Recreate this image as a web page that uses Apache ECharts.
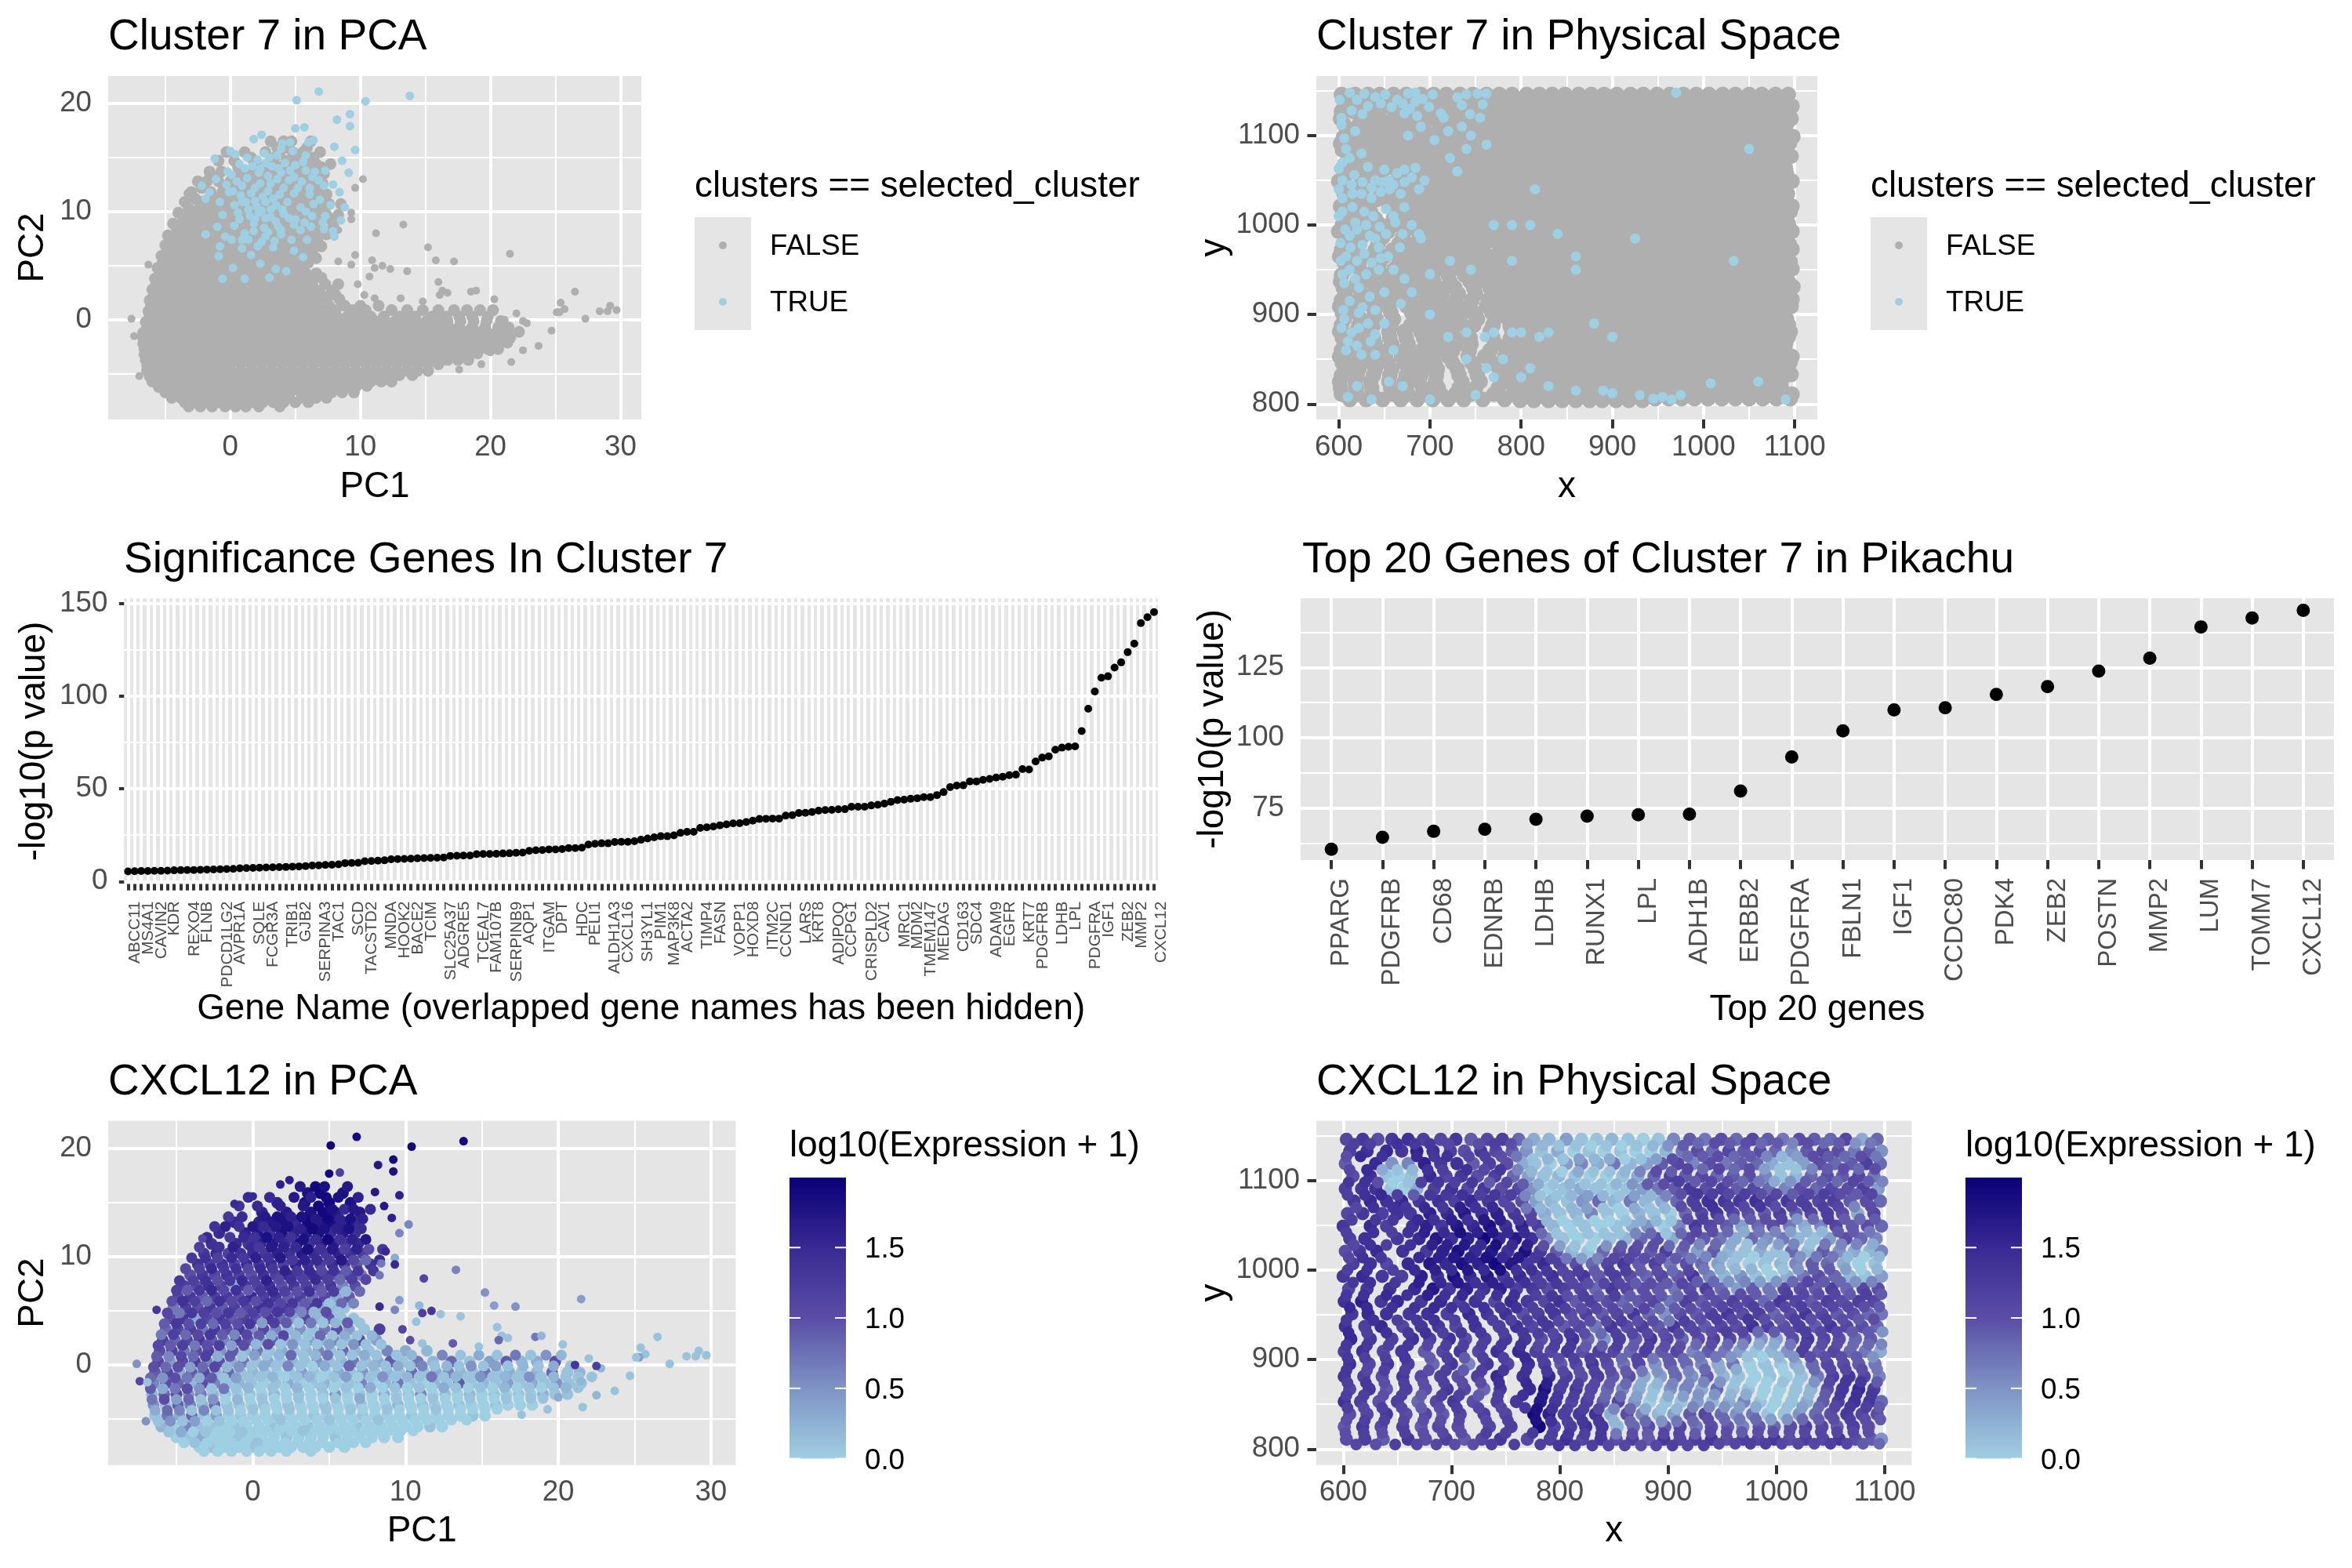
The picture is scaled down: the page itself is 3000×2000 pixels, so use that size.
<!DOCTYPE html>
<html><head><meta charset="utf-8">
<script src="https://cdn.jsdelivr.net/npm/echarts@6/dist/echarts.min.js"></script>
<style>html,body{margin:0;padding:0;background:#fff}#c{width:3000px;height:2000px}</style></head>
<body><div id="c"></div>
<script>
// --- gene data ---
const rankedLabels = {0:"ABCC11",2:"MS4A1",4:"CAVIN2",6:"KDR",9:"REXO4",11:"FLNB",14:"PDCD1LG2",16:"AVPR1A",19:"SQLE",21:"FCGR3A",24:"TRIB1",26:"GJB2",29:"SERPINA3",31:"TAC1",34:"SCD",36:"TACSTD2",39:"MNDA",41:"HOOK2",43:"BACE2",45:"TCIM",48:"SLC25A37",50:"ADGRE5",53:"TCEAL7",55:"FAM107B",58:"SERPINB9",60:"AQP1",63:"ITGAM",65:"DPT",68:"HDC",70:"PELI1",73:"ALDH1A3",75:"CXCL16",78:"SH3YL1",80:"PIM1",82:"MAP3K8",84:"ACTA2",87:"TIMP4",89:"FASN",92:"VOPP1",94:"HOXD8",97:"ITM2C",99:"CCND1",102:"LARS",104:"KRT8",107:"ADIPOQ",109:"CCPG1",112:"CRISPLD2",114:"CAV1",117:"MRC1",119:"MDM2",121:"TMEM147",123:"MEDAG",126:"CD163",128:"SDC4",131:"ADAM9",133:"EGFR",136:"KRT7",138:"PDGFRB",141:"LDHB",143:"LPL",146:"PDGFRA",148:"IGF1",151:"ZEB2",153:"MMP2",156:"CXCL12"};
const rankedValues = [5.4,5.5,5.6,5.6,5.7,5.7,5.8,6.0,6.1,6.2,
6.2,6.3,6.4,6.5,6.6,6.7,6.8,7.1,7.2,7.3,
7.4,7.5,7.6,7.7,7.8,8.0,8.1,8.3,8.6,8.7,
8.9,9.0,9.2,9.9,10.0,10.1,10.9,11.0,11.2,11.4,
12.0,12.1,12.2,12.3,12.5,12.6,12.7,12.8,12.9,13.8,
13.9,14.0,14.0,14.7,14.8,14.8,14.9,15.1,15.2,15.5,
15.6,16.5,16.8,16.9,17.3,17.3,17.5,18.0,18.0,18.2,
19.9,20.3,20.6,20.6,21.3,21.4,21.4,21.7,22.5,23.2,
23.8,24.4,24.4,24.9,26.2,26.8,26.8,28.9,29.2,29.6,
30.3,30.8,31.3,31.4,32.1,32.8,33.7,33.8,33.9,33.9,
35.5,35.8,36.9,37.0,37.5,38.2,38.5,38.6,38.9,39.0,
40.3,40.3,40.3,41.0,41.4,42.0,43.0,43.9,44.1,44.6,
44.9,45.5,45.5,46.6,48.2,50.9,51.7,51.9,54.0,54.0,
54.8,55.3,56.1,56.5,57.3,57.6,60.6,60.4,64.7,66.8,
67.5,71.1,72.2,72.7,72.9,81.1,93.2,102.5,109.9,110.7,
115.4,118.2,123.7,128.3,139.4,142.6,145.3];
const topGenes = ["PPARG","PDGFRB","CD68","EDNRB","LDHB","RUNX1","LPL","ADH1B","ERBB2","PDGFRA","FBLN1","IGF1","CCDC80","PDK4","ZEB2","POSTN","MMP2","LUM","TOMM7","CXCL12"];
const topValues = [60.4,64.7,66.8,67.5,71.1,72.2,72.7,72.9,81.1,93.2,102.5,109.9,110.7,115.4,118.2,123.7,128.3,139.4,142.6,145.3];
// --- PCA cells: each row is [PC2, PC1*10, expr*10, PC1*10, expr*10, ...] ---
const pcaRows = [
[15.9,36,18,44,19,59,18],
[15.0,16,16,34,18,50,19,64,18],
[14.1,6,16,22,17,38,18,46,19,54,17,70,17],
[13.2,-12,15,4,16,12,17,20,18,28,15,36,19,44,17,52,18,60,16,68,15],
[12.2,-22,15,-5,16,3,17,11,14,19,18,27,16,35,17,43,18,51,15,59,17,67,14],
[11.2,-27,14,-11,15,-3,13,5,16,13,17,21,15,29,18,37,14,45,16,53,17,61,13,69,15],
[10.3,-32,13,-24,15,-16,12,-8,14,0,15,8,13,16,16,24,14,32,17,40,15,48,13,56,16,64,14,72,12],
[9.3,-36,14,-28,12,-20,14,-12,11,-4,15,4,13,12,15,20,12,28,16,36,14,44,12,52,15,60,13,68,9,77,14],
[8.3,-41,10,-33,13,-25,11,-17,14,-9,12,-1,10,7,14,15,12,23,15,31,11,39,14,47,13,55,10,63,12,71,7],
[7.3,-45,12,-37,10,-29,14,-21,12,-13,3,-5,13,3,11,11,14,19,10,27,13,35,12,43,10,51,13,59,6,67,10],
[6.3,-49,11,-41,13,-33,9,-25,12,-17,13,-9,10,-1,15,7,12,15,13,23,9,31,12,39,8,47,11,55,3,63,9],
[5.3,-52,7,-44,12,-36,10,-28,13,-20,9,-12,12,-4,11,4,14,12,10,20,13,28,7,36,12,44,3,52,2,60,1],
[4.3,-54,10,-46,13,-38,3,-30,11,-22,13,-14,9,-6,12,2,10,10,13,18,8,26,4,34,11,42,2,50,9,58,1,66,1],
[3.3,-57,8,-49,11,-41,12,-33,7,-25,13,-17,10,-9,13,-1,5,7,11,15,6,23,2,31,5,39,1,47,7,55,10,63,4,73,1,83,12],
[2.3,-59,12,-51,8,-43,11,-35,13,-27,9,-19,6,-11,12,-3,9,5,3,13,9,21,2,29,1,37,4,45,2,53,6,61,1,70,10,81,4],
[1.3,-61,10,-53,12,-45,7,-37,10,-29,12,-21,5,-13,9,-5,2,3,7,11,1,19,3,27,1,35,2,43,6,51,1,59,8,67,2,76,1,88,6,100,3,114,2],
[0.3,-62,11,-54,4,-46,10,-38,12,-30,6,-22,10,-14,3,-6,7,2,1,10,3,18,1,26,2,34,1,42,5,50,1,58,2,66,7,74,1,82,3,90,9,98,1,108,7,118,2,130,8,142,1,155,4,166,9,176,2,186,3,198,10],
[-0.7,-64,9,-56,11,-48,3,-40,9,-32,11,-24,2,-16,8,-8,1,0,2,8,1,16,0,24,1,32,4,40,1,48,0,56,3,64,1,72,5,80,1,88,2,96,1,104,8,112,1,120,3,128,6,136,2,144,1,152,7,160,1,168,3,176,1,186,2,196,8,206,1,214,2],
[-1.7,-65,6,-57,10,-49,8,-41,2,-33,10,-25,6,-17,1,-9,2,-1,1,7,0,15,1,23,3,31,0,39,1,47,2,55,0,63,1,71,6,79,0,87,2,95,7,103,1,111,0,119,2,127,1,135,9,143,1,151,2,159,1,167,4,175,1,183,3,191,1,199,5,207,1,215,1],
[-2.7,-66,2,-58,8,-50,11,-42,5,-34,7,-26,2,-18,1,-10,0,-2,1,6,0,14,2,22,0,30,1,38,0,46,1,54,5,62,0,70,1,78,0,86,3,94,0,102,1,110,6,118,0,126,1,134,0,142,2,150,0,158,1,166,0,174,1,182,0,190,3,198,1,206,1],
[-3.7,-65,5,-57,1,-49,9,-41,6,-33,2,-25,8,-17,1,-9,1,-1,0,7,1,15,0,23,1,31,0,39,0,47,1,55,0,63,0,71,1,79,0,87,0,95,2,103,0,111,1,119,0,127,0,135,1,143,0,151,0,159,1,167,0,175,0,183,0],
[-4.7,-64,1,-56,7,-48,3,-40,8,-32,1,-24,4,-16,0,-8,1,0,0,8,0,16,1,24,0,32,0,40,1,48,0,56,0,64,0,72,1,80,0,88,0,96,0,104,1,112,0,120,0,128,0,136,0,144,1,152,0],
[-5.7,-60,2,-52,0,-44,6,-36,1,-28,1,-20,0,-12,1,-4,0,4,0,12,1,20,0,28,0,36,1,44,0,52,0,60,0,68,1,76,0,84,0,92,0,100,0,108,0,116,1,124,0],
[-6.7,-50,0,-42,1,-34,3,-26,0,-18,0,-10,1,-2,0,6,0,14,0,22,1,30,0,38,0,46,0,54,1,62,0,70,0,78,0,86,0,95,0],
[-7.6,-35,0,-27,1,-19,0,-9,0,-1,1,7,0,17,0,25,0,33,0,41,0,50,0,60,0]
];
// --- more PCA cells, in short runs, same layout ---
const pcaRuns = [
[16.5,31,17,41,19,47,18,62,17],
[15.5,-3,15,11,15,27,17,38,16,48,19,56,18,69,16],
[14.7,-9,14,3,15,18,16,33,17,43,19],
[14.4,52,18,60,15,66,17,77,15],
[13.7,-16,13,-7,15,8,17,16,18,25,16,32,18],
[13.5,41,17,49,19,57,16,64,18,72,16],
[12.8,-25,14,-18,16,-9,14,0,17,7,15,15,17,23,18],
[12.6,31,16,39,19,47,18,55,16,63,18,71,15],
[11.8,-30,15,-15,13,-6,15,1,14,9,18,17,16,25,14],
[11.6,33,18,41,15,49,19,57,14,65,16,74,17],
[10.9,-35,12,-22,14,-13,16,-1,15,4,13,12,17,20,16,28,15],
[10.7,36,18,44,14,52,17,60,12,68,16,76,10,85,13],
[9.9,-40,13,-31,14,-23,12,-14,15,-6,13,2,16,10,14,18,17],
[9.7,26,13,34,16,42,15,50,13,58,17,66,11,74,8,83,15],
[8.9,-44,11,-35,12,-27,15,-19,13,-11,14,-3,11,5,15,13,13],
[8.7,21,16,29,13,37,15,45,11,53,14,61,9,69,13,79,13],
[7.8,-48,13,-39,12,-31,14,-23,10,-15,13,-7,15,1,12,9,16],
[7.9,17,11,25,14,33,12,41,15,49,12,57,8,65,12,74,11],
[6.9,-50,12,-43,9,-35,13,-27,15,-19,11,-11,14,-3,9,5,13],
[6.8,13,15,21,12,29,10,37,14,45,9,53,12,61,2,70,8],
[5.9,-53,10,-46,14,-38,12,-30,8,-22,14,-14,11,-6,13,2,10],
[5.7,10,14,18,11,26,13,34,9,42,13,50,1,58,8,66,6],
[4.8,-56,11,-48,7,-40,13,-32,12,-24,10,-16,13,-8,9,0,12],
[4.9,8,10,16,13,24,11,32,6,40,2,48,10,56,1],
[3.8,-58,9,-50,13,-42,10,-34,12,-26,8,-18,12,-10,10,-2,13],
[3.9,6,4,14,12,22,9,30,1,38,7,46,1,54,2,62,9,70,1],
[2.8,-60,7,-52,12,-44,8,-36,11,-28,13,-20,9,-12,6,-4,11],
[2.7,4,9,12,3,20,11,28,2,36,1,44,8,52,1,60,3,68,1,78,2],
[1.8,-62,11,-54,9,-46,12,-38,7,-30,10,-22,12,-14,4,-6,10],
[1.9,2,2,10,10,18,1,26,5,34,1,42,1,50,4,58,1,66,5,74,1,84,1],
[0.8,-63,9,-55,6,-47,11,-39,8,-31,12,-23,3,-15,9,-7,1],
[0.9,1,4,9,1,17,2,25,8,33,1,41,2,49,7,57,1,65,1,73,3,81,1,94,1,104,2,124,6,136,1,148,3,160,1,172,7,182,1,192,5,202,2],
[-0.2,-65,10,-57,8,-49,10,-41,4,-33,8,-25,11,-17,2,-9,5],
[-0.1,-1,1,7,3,15,1,23,6,31,1,39,0,47,3,55,1,63,8,71,1,79,2,87,1,95,3,103,1,111,6,119,1,127,2,135,1,143,5,151,1,159,4,167,1,177,2,187,1,197,3,208,1],
[-1.2,-67,8,-59,5,-51,10,-43,7,-35,3,-27,9,-19,1,-11,4],
[-1.1,-3,1,5,1,13,2,21,0,29,1,37,2,45,0,53,1,61,4,69,0,77,1,85,5,93,1,101,2,109,1,117,7,125,1,133,2,141,1,149,5,157,1,165,2,173,1,181,5,189,1,197,2,205,1,213,1,222,1],
[-2.2,-67,9,-59,3,-51,7,-43,10,-35,5,-27,1,-19,7,-11,1],
[-2.1,-3,2,5,0,13,1,21,0,29,2,37,0,45,1,53,0,61,1,69,0,77,3,85,0,93,1,101,0,109,1,117,0,125,3,133,1,141,0,149,1,157,0,165,2,173,0,181,1,189,0,197,1,205,2,213,1],
[-3.2,-66,7,-58,10,-50,4,-42,8,-34,1,-26,5,-18,0,-10,2],
[-3.1,-2,0,6,1,14,0,22,0,30,1,38,0,46,0,54,1,62,0,70,3,78,0,86,0,94,1,102,0,110,0,118,1,126,0,134,0,142,1,150,0,158,0,166,1,174,0,182,1,190,1],
[-4.2,-64,3,-56,8,-48,6,-40,1,-32,6,-24,1,-16,1,-8,0],
[-4.1,0,1,8,0,16,0,24,1,32,0,40,0,48,1,56,0,64,1,72,0,80,0,88,1,96,0,104,0,112,0,120,1,128,0,136,0,144,0,152,0,160,0],
[-5.2,-62,1,-54,5,-46,1,-38,4,-30,0,-22,1,-14,0,-6,0],
[-5.1,2,0,10,0,18,1,26,0,34,0,42,0,50,1,58,0,66,0,74,0,82,1,90,0,98,0,106,0,114,0,122,0,130,0,140,0],
[-6.2,-55,1,-47,3,-39,0,-31,1,-23,0,-15,0,-7,1,1,0],
[-6.1,9,0,17,0,25,0,33,1,41,0,49,0,57,0,65,0,73,0,81,0,89,0,97,0,105,0],
[-7.2,-45,0,-38,1,-30,0,-22,0,-14,0,-5,0,3,1,11,0,21,0,29,0,37,0,45,0,56,0,66,0,74,0],
[-8.0,-32,0,-23,0,-14,0,-4,0,4,0,12,0,22,0,38,0]
];
// --- outlying PCA cells: [PC1, PC2, expr] ---
const pcaOutliers = [[6.8,21.1,1.9],[5.1,20.3,1.9],[10.4,20.2,1.9],[13.8,20.7,1.9],[9.2,19,1.9],[8.2,18.5,1.7],[9.2,17.9,1.8],[5,17.7,1.9],[5.7,17.8,1.2],[2.4,17.1,1.6],[1.8,16.7,1.6],[8,16,1.7],[9.6,15.7,1.6],[0,15.6,1.5],[-1.2,14.9,1.5],[8.6,14.7,1.7],[9.1,13.6,1.6],[10.2,13,.6],[9.6,12.2,.6],[-3.3,11.7,1.1],[9.3,9.9,.3],[9.3,9.3,1.5],[8.4,9.4,.7],[8.7,10.5,1.5],[13.3,8.8,.6],[11.2,8,1.1],[8.3,8.3,.7],[15.2,6.7,.5],[21.5,6.1,.4],[9.6,6,.4],[10.9,5.5,.2],[15.8,5.5,.4],[17.2,5.4,.5],[8.3,5.4,1.5],[9.3,5.1,.6],[11.1,4.8,1.2],[11.7,5,1.3],[12.3,4.7,.1],[13.6,4.5,.1],[10.7,4,.1],[16,3.5,.1],[9.8,3.3,1.1],[16.3,2.7,.1],[16.7,2.5,.1],[18.5,2.6,.7],[18.9,2.7,.2],[16.1,2.3,.8],[10.3,2.3,1],[11.1,2,.1],[13.1,2,.9],[14.8,1.7,.1],[20.3,1.9,.1],[26.5,2.6,.1],[25.4,1.6,.1],[25.7,1,.1],[25.3,.7,.4],[25.1,.7,.1],[28.4,.8,.1],[29.2,1.3,.1],[29,.8,.1],[29.7,.9,.1],[27.3,.1,.1],[24.7,-1,.1],[23.7,-2.4,.1],[22.5,-2.8,.2],[22.8,-.3,.2],[22.5,-.1,1.2],[21.6,-3.9,.1],[22,.6,.1],[21.1,0,1.3],[-7.6,.1,.5],[-7.4,-1.5,1.1],[-7,-5.2,.5],[-6.9,-1.6,.1],[-6.3,5.1,1.3],[21.5,-1.5,.2],[20,-3,.3],[19.3,-4.1,.1],[17.6,-4.6,.1]];
// --- PCA cells of cluster 7: PC1, PC2 pairs ---
const pcaCluster = [6.8,21.1,5.1,20.3,10.4,20.2,13.8,20.7,9.2,19,9.2,17.9,8.2,18.5,5,17.7,5.7,17.8,2.4,17.1,1.8,16.7,8,16,9.6,15.7,0,15.6,.4,15.3,-1.2,14.9,8.6,14.7,9.1,13.6,4,16.3,4.6,16.4,6,16.4,6.4,16.6,3.9,15.8,5.8,15.2,3,15,2.1,14.8,1.3,15,-.2,13.7,-1.1,13,1.1,14,2.3,14,3.2,14.2,4.2,14.5,5,14.3,6.5,13.7,7.3,13.8,3.9,13.6,2.9,13.3,1.3,13.1,.5,12.8,2.3,12.6,4.5,12.9,5.5,12.8,6.3,13.2,6.8,12.9,-2.2,12.4,-1.6,11.8,.8,11.5,1.6,11.7,2.9,11.9,3.8,11.6,4.9,11.7,6.1,11.6,7.9,12.5,8.4,11.8,-1.9,11.2,-.8,10.9,.3,10.6,1.2,10.9,2,10.5,2.7,10.9,3.5,10.6,4.4,10.9,5.4,10.4,6.4,10.7,7.7,10.6,8.8,10.4,-.6,9.7,.6,9.9,1.5,9.6,2.2,9.9,3.1,9.5,4.1,9.8,5,9.3,6.3,9.6,7.3,9.6,8.5,9.2,-1,8.6,.3,8.7,1.8,8.9,2.6,8.5,3.7,8.6,5.4,8.3,6.2,8.6,7.2,8.4,7.9,8.2,-1.9,7.9,-.4,7.7,1.4,7.4,2.7,7.7,3.9,7.9,4.7,7.4,5.9,7.4,-.8,6.8,.9,6.6,2.1,6.8,3.3,6.7,4.9,6.4,-.9,5.9,1.6,6,2.3,5.2,3.5,4.7,4.3,4.5,1.1,3.8,.2,4.8,-.6,3.8,3,3.9,5.6,5.8,8,7.7,
 .9,12.4,1.9,12.2,2.5,11.4,3.3,11.2,4.1,12.2,5.2,12.2,1.4,10.2,2.4,10.1,3.1,10.2,4,10.2,.7,9.3,1.9,9.3,2.7,9.4,3.5,9.1,.9,10.9,1.9,11,3.1,12.6,3.6,13,4.9,13.2,5.8,13.8,2.2,13.6,1.8,8.2,2.9,8.1,3.4,7.3,.1,7.4,-.1,11.8,-.3,12.5,.1,13.4,6.9,11.1,7.1,9,5.8,10,4.5,9.4,3.9,8.3,4.9,8.8,5.7,9,1.1,8,.9,7.4,2.4,7.2,
 2.6,15.4,3.6,15.2,4.8,15.6,5.6,14.6,1.7,14.2,.7,14.4,2.7,14.5,3.7,14,4.6,13.8,6.1,12.2,.2,11.9,7.2,12.4];
// --- physical cells: each row is [y, x, expr*10, x, expr*10, ...] ---
const spaceRows = [
[1146,603,11,618,13,632,10,645,13,660,14,674,12,690,11,704,13,718,9,733,11,747,12,762,8,776,3,790,2,806,4,820,1,834,1,848,2,863,1,877,0,891,1,905,6,920,9,934,7,949,10,963,8,978,11,992,9,1006,7,1021,10,1035,9,1050,8,1064,11,1079,3,1093,8],
[1133,606,12,622,14,640,15,654,13,668,16,683,14,699,12,712,10,727,13,741,11,756,9,769,5,783,1,798,3,813,0,827,1,841,0,856,1,870,0,884,0,898,2,913,7,927,10,941,8,956,11,970,9,985,10,999,8,1014,5,1028,9,1043,11,1057,10,1072,7,1086,9,1097,5],
[1119,602,9,630,15,645,5,660,6,675,16,690,13,705,14,720,9,735,12,751,10,766,3,777,1,791,0,806,4,820,6,835,3,850,7,865,2,880,4,894,9,909,11,923,6,938,10,953,7,967,9,982,8,996,3,1011,1,1025,4,1040,10,1054,8,1069,9,1083,12,1096,8],
[1105,609,10,625,14,640,1,651,0,663,1,680,15,695,11,709,13,724,10,740,12,757,8,771,4,785,1,799,2,814,1,828,0,843,0,858,1,872,3,887,8,902,12,916,9,931,11,945,8,960,9,975,10,990,6,1004,1,1018,2,1032,8,1047,10,1061,9,1076,11,1090,7],
[1091,602,12,617,13,630,14,644,1,656,0,668,3,684,12,700,14,715,11,730,13,746,10,762,11,775,5,790,0,804,1,819,3,833,1,848,0,862,1,877,4,891,7,906,9,920,13,935,10,950,12,964,9,979,11,993,8,1008,6,1022,10,1037,8,1051,11,1066,10,1080,12,1094,4],
[1077,610,13,625,15,640,14,654,15,670,13,688,14,703,12,718,15,734,13,749,11,765,10,778,4,792,2,807,1,821,5,836,8,850,2,865,7,879,2,894,3,908,8,923,12,937,14,952,13,966,13,981,14,995,12,1010,13,1024,12,1039,11,1053,12,1068,9,1083,10,1096,8],
[1063,604,11,618,13,636,12,650,14,662,13,680,16,696,15,712,17,728,14,742,16,758,13,773,11,786,3,800,1,815,2,829,6,844,1,858,0,873,2,887,1,902,0,916,8,931,11,945,13,960,11,974,10,989,9,1003,12,1018,9,1032,11,1047,12,1061,10,1075,3,1090,11],
[1049,600,13,625,15,640,12,664,14,677,16,691,13,705,17,720,15,735,18,750,14,765,16,780,12,794,2,809,0,823,1,838,0,852,1,867,3,881,5,896,0,910,6,925,13,939,11,954,9,968,4,983,8,997,10,1012,7,1026,3,1041,6,1055,11,1070,9,1084,10,1097,8],
[1035,606,12,620,14,650,13,670,15,686,17,700,14,715,16,730,19,744,15,759,17,774,14,788,6,803,1,817,0,832,0,846,1,861,2,875,8,890,10,904,3,919,10,933,9,948,7,962,3,977,8,991,5,1006,7,1020,2,1035,1,1049,4,1064,10,1078,8,1092,6],
[1021,602,10,615,13,631,15,655,14,677,13,692,16,706,18,722,15,737,17,752,14,768,18,782,13,797,9,811,2,826,1,840,8,855,10,869,11,884,9,898,12,913,8,927,4,942,9,956,2,971,1,985,3,1000,1,1014,8,1029,2,1043,9,1058,5,1072,3,1086,2,1097,6],
[1007,609,12,625,14,640,11,660,15,680,17,695,15,710,18,725,16,740,19,755,17,770,13,785,15,800,12,815,10,830,8,844,11,859,13,873,9,888,12,902,7,917,10,931,8,946,4,960,1,975,0,989,1,1004,2,1018,6,1033,9,1047,8,1062,3,1076,0,1091,1],
[993,600,13,618,15,636,13,654,12,672,16,687,14,702,18,717,15,733,17,748,13,763,15,778,12,793,14,808,11,822,13,836,9,851,12,865,10,880,8,894,11,909,9,923,13,938,6,952,2,967,5,981,1,996,0,1010,3,1025,7,1039,10,1054,8,1068,2,1082,1,1097,4],
[979,605,11,622,13,643,14,666,15,683,17,698,13,714,16,730,14,745,16,760,12,775,13,789,10,804,12,819,11,833,8,848,13,862,11,877,10,891,9,906,7,920,10,935,12,949,8,964,4,978,9,993,7,1007,11,1022,10,1036,9,1051,12,1065,8,1080,11,1094,10],
[965,601,14,617,16,635,13,650,15,672,13,690,15,707,12,722,14,740,11,755,15,770,13,786,11,800,14,815,9,829,12,844,10,858,8,873,9,887,11,902,7,916,12,931,9,945,10,960,12,974,11,989,8,1003,13,1018,11,1032,9,1047,12,1061,10,1076,12,1090,11],
[951,608,13,623,15,640,14,661,13,678,14,696,12,716,15,733,13,750,14,766,10,780,12,795,13,810,10,824,12,839,9,853,11,868,13,882,8,897,5,911,10,926,9,940,12,955,13,969,10,984,12,998,8,1013,10,1027,13,1042,11,1056,9,1071,10,1085,8,1097,7],
[937,602,14,620,12,635,15,655,11,672,13,688,13,704,11,722,14,744,12,760,14,774,11,789,13,804,9,818,11,833,7,847,13,862,10,876,12,891,9,905,13,920,11,934,9,949,11,963,10,978,14,992,12,1007,10,1021,12,1036,9,1050,13,1065,11,1079,10,1093,8],
[923,607,15,625,13,645,12,664,14,680,12,698,14,713,10,731,12,750,13,768,13,783,10,797,12,812,14,826,8,841,5,855,12,870,9,884,13,899,11,913,8,928,10,942,12,957,11,971,9,986,5,1000,4,1015,10,1029,13,1044,11,1058,10,1073,8,1087,9],
[909,601,12,618,14,637,11,654,13,675,9,692,11,708,13,725,11,742,14,762,15,778,12,792,11,807,13,821,10,836,12,850,11,865,8,879,12,894,9,908,11,923,6,937,9,952,7,966,4,981,1,995,2,1010,5,1024,12,1039,9,1053,11,1068,8,1082,7,1096,3],
[895,606,14,624,11,641,13,660,12,683,8,700,13,716,6,733,13,752,11,771,14,786,12,801,9,815,11,830,13,844,10,859,7,873,11,888,5,902,9,917,8,931,6,946,3,960,7,975,0,989,1,1004,1,1018,3,1033,8,1047,11,1062,10,1076,9,1091,7],
[881,601,13,619,12,636,10,655,13,672,11,690,12,706,10,724,12,742,15,766,14,790,15,806,12,820,10,835,12,849,9,864,10,878,3,893,4,907,8,922,5,936,9,951,2,965,1,980,0,994,1,1009,0,1023,1,1038,7,1052,12,1067,13,1081,11,1095,6],
[867,606,11,624,13,640,9,658,12,676,10,696,13,712,11,730,8,745,13,772,15,786,18,800,12,815,13,829,11,844,8,858,6,873,3,887,1,902,5,916,6,931,3,945,8,960,1,974,1,989,0,1003,0,1018,1,1032,2,1047,10,1061,13,1076,15,1090,12],
[853,601,14,616,12,633,10,650,12,669,8,686,11,702,13,720,10,742,12,760,13,782,17,796,13,811,11,825,12,840,9,854,11,869,5,883,0,898,1,912,1,927,4,941,2,956,3,970,6,985,1,999,0,1014,1,1028,3,1043,9,1057,12,1072,14,1086,13,1097,8],
[839,606,10,622,11,640,13,658,10,676,11,692,9,708,11,730,12,750,11,776,19,790,16,804,12,818,13,833,14,847,3,862,10,876,6,891,2,905,4,920,9,934,11,949,8,963,5,978,7,992,1,1007,1,1021,5,1036,8,1050,10,1065,13,1079,11,1093,10],
[825,601,9,618,13,635,11,655,12,672,9,688,11,706,10,735,11,755,12,781,19,795,11,810,12,824,14,839,13,853,2,868,8,882,10,897,9,911,11,926,7,940,10,955,9,969,6,984,9,998,8,1013,10,1027,12,1042,11,1056,9,1071,12,1085,10],
[811,603,10,620,12,637,9,660,13,676,10,695,12,712,9,728,11,745,13,770,11,791,12,806,14,821,11,838,13,852,10,867,12,882,9,896,13,911,11,925,12,940,13,954,10,969,12,983,11,998,13,1012,10,1027,12,1043,11,1058,13,1073,10,1088,9,1097,5]
];
// --- more physical cells, in short runs, same layout ---
const spaceRuns = [
[1141,610,12,625,12,650,14,666,13,680,13,697,11,725,10,740,12,755,10,770,4],
[1139,784,2,799,1,815,1,829,0,843,1,857,0,871,1,886,2,900,5,914,9],
[1142,928,8,943,10,957,9,972,10,986,8,1001,9,1015,6,1029,10,1044,8,1058,9,1073,5,1087,7],
[1127,603,10,616,15,636,14,668,15,684,13,696,14,716,11,731,12,746,10,760,7],
[1124,775,1,789,2,803,1,818,4,832,2,846,3,860,0,875,1,889,4,904,10],
[1127,918,8,932,9,946,10,961,8,976,9,991,6,1005,2,1019,4,1034,10,1048,9,1063,8,1078,10,1092,7],
[1112,606,11,622,15,636,3,650,1,664,2,678,14,692,12,714,14,730,11,745,13,761,6],
[1110,774,2,788,1,802,0,817,3,831,1,846,1,860,2,874,6,889,10,903,9],
[1113,918,11,932,8,947,11,961,8,975,10,989,4,1003,1,1018,1,1033,6,1047,9,1062,10,1076,8,1091,10],
[1098,605,13,620,14,632,10,646,0,660,1,672,12,688,13,703,12,719,13,735,9,751,11],
[1096,766,9,780,3,794,1,809,2,823,1,838,1,852,2,867,5,881,9,896,10],
[1099,910,12,925,9,940,11,955,10,969,8,984,7,998,3,1013,5,1027,9,1042,9,1056,8,1071,11,1085,9,1098,6],
[1084,604,12,620,14,635,15,650,12,665,9,680,13,695,13,710,14,726,12,740,13,755,12],
[1083,768,6,782,1,797,1,811,2,826,4,840,2,855,1,869,4,884,2,898,6],
[1085,912,10,927,13,941,12,956,11,971,12,986,10,1000,11,1015,9,1030,11,1044,12,1059,10,1074,9,1088,11],
[1070,612,11,628,14,646,14,658,13,675,15,692,13,708,16,722,14,738,15,754,11],
[1069,769,7,782,2,796,1,811,2,825,4,840,1,854,0,869,3,883,1,897,2],
[1071,912,10,926,12,941,14,956,12,970,11,985,13,999,10,1014,11,1028,12,1043,12,1057,11,1072,6,1087,10],
[1056,608,12,630,13,646,13,669,15,684,14,700,16,715,14,730,17,745,16,762,13],
[1055,774,11,788,2,803,0,817,1,832,0,846,0,861,1,875,3,889,2,903,1],
[1057,918,10,932,12,947,10,961,8,976,9,990,10,1005,11,1019,5,1034,8,1048,12,1063,9,1077,8,1091,9],
[1042,603,12,628,14,645,12,660,14,675,16,693,15,708,18,724,16,738,17,752,15,767,15],
[1041,783,8,797,1,812,0,826,1,841,1,855,1,870,6,884,8,898,1,912,8],
[1043,926,11,941,10,955,8,970,3,984,7,999,6,1013,4,1028,2,1042,2,1057,9,1071,9,1086,7],
[1028,610,11,625,14,640,12,662,14,682,16,696,16,712,17,727,15,741,18,756,15,770,16],
[1027,785,10,800,4,814,1,829,0,843,5,857,9,872,10,886,10,901,8,915,9],
[1029,929,6,944,8,958,3,973,1,987,4,1002,4,1016,6,1031,1,1045,7,1060,6,1074,6,1089,3],
[1014,605,11,618,14,635,13,670,15,688,16,702,17,717,16,732,18,747,15,762,17,777,13],
[1013,792,12,806,7,820,4,835,6,850,11,864,11,878,10,893,10,907,9,921,7],
[1015,935,6,950,3,964,1,979,0,993,1,1007,1,1022,5,1037,7,1052,7,1066,2,1081,0,1095,2],
[1000,604,12,622,14,646,12,666,15,685,16,700,15,715,17,730,15,745,18,760,14,774,14],
[999,788,13,803,11,817,12,832,9,846,12,861,12,875,9,890,10,904,8,919,11],
[1001,933,7,948,3,962,2,977,2,991,0,1006,1,1020,5,1034,9,1049,9,1064,4,1078,0,1093,2],
[986,609,13,625,14,648,13,670,16,690,15,706,17,722,14,738,16,753,14,768,14],
[985,783,12,797,13,812,11,826,10,841,11,855,11,870,9,884,10,899,9,913,11],
[987,927,9,942,8,956,5,971,6,985,4,1000,5,1015,8,1029,11,1044,9,1059,8,1073,5,1088,6],
[972,603,13,619,14,640,15,659,14,678,16,694,14,710,15,726,13,742,14,758,14,778,12],
[971,793,13,807,10,822,12,836,9,851,12,865,9,880,10,894,9,909,8,923,11],
[973,938,10,952,9,967,10,981,9,996,7,1010,12,1025,11,1039,10,1054,11,1068,9,1083,12,1097,9],
[958,606,15,622,15,645,14,666,14,684,15,700,14,712,13,730,14,745,13,760,14,775,12],
[957,791,13,805,12,820,10,834,11,849,11,863,9,878,11,892,8,906,9,921,10],
[959,935,10,950,11,964,11,979,12,994,10,1008,11,1023,12,1037,10,1052,11,1066,11,1081,10,1095,9],
[944,603,13,628,14,650,12,668,13,684,14,703,12,720,14,738,12,755,12,770,12],
[943,784,13,799,11,813,10,828,10,843,11,857,12,872,10,886,10,901,7,915,12],
[945,930,10,945,12,959,11,974,13,989,10,1003,9,1017,12,1032,10,1046,12,1061,10,1076,9,1090,10],
[930,605,15,622,12,640,14,660,13,676,14,692,12,709,13,727,13,748,12,766,13],
[929,780,12,794,11,809,13,823,10,838,8,852,12,867,11,881,11,896,10,910,11],
[931,925,11,940,10,954,12,969,11,983,8,998,9,1012,10,1027,12,1041,11,1056,11,1070,9,1085,9,1098,5],
[916,603,13,622,13,642,12,660,13,678,11,695,12,711,12,728,12,746,13,764,14],
[915,780,11,795,12,810,13,824,9,839,9,853,12,868,9,882,12,897,10,911,10],
[917,926,8,940,10,955,8,969,6,984,3,998,3,1013,7,1027,12,1042,10,1056,10,1071,8,1085,8,1097,6],
[902,604,13,620,12,639,12,657,13,680,9,696,12,712,9,729,12,748,12,768,15],
[901,784,12,799,10,813,12,828,12,842,11,857,8,871,11,886,7,900,9,914,8],
[903,929,7,944,7,958,5,973,1,987,0,1002,2,1016,5,1031,10,1045,10,1060,10,1074,9,1089,5],
[888,603,13,622,11,638,12,657,12,679,10,695,12,711,9,728,12,748,13,769,14],
[887,788,13,803,11,818,10,832,12,847,10,861,9,876,7,890,5,905,8,919,6],
[889,934,8,948,3,963,3,977,0,992,1,1006,0,1021,2,1035,8,1050,11,1064,11,1079,10,1093,7],
[874,604,12,621,13,638,10,656,12,674,10,693,12,710,10,727,10,744,14,769,15],
[873,788,16,803,12,817,12,832,11,846,9,861,8,875,3,890,2,904,6,919,6],
[875,933,6,948,5,962,1,977,0,991,0,1006,1,1020,1,1035,5,1049,11,1064,13,1078,13,1093,9],
[860,603,12,619,12,637,10,654,12,672,9,691,12,707,12,725,9,743,12,766,14],
[859,784,17,798,13,813,12,827,11,842,8,856,8,871,4,885,1,900,3,914,4],
[861,928,5,943,5,958,2,972,3,987,0,1001,0,1016,1,1030,2,1045,9,1059,13,1074,14,1088,13],
[846,604,12,619,11,636,12,654,11,672,9,689,10,705,12,725,11,746,11,768,13],
[845,779,18,793,14,807,12,822,12,836,11,850,6,865,8,879,3,894,1,908,2],
[847,923,6,938,6,952,5,966,4,981,3,996,0,1010,1,1024,4,1039,8,1054,11,1068,13,1083,12,1095,9],
[832,603,10,620,12,638,12,656,11,674,10,690,10,707,11,732,11,752,12,778,18],
[831,792,14,807,12,821,13,836,13,850,2,865,8,879,8,894,5,908,7,923,8],
[833,937,10,952,8,966,7,981,8,995,4,1010,5,1024,8,1039,9,1053,10,1068,12,1082,10,1096,9],
[818,602,10,619,12,636,10,657,12,674,10,692,11,709,10,732,12,750,12,775,13],
[817,793,12,808,13,823,12,838,13,852,7,867,10,881,9,896,11,910,11,925,9],
[819,939,11,954,10,968,9,983,10,997,10,1012,10,1026,11,1041,11,1056,11,1071,11,1085,10],
[805,612,11,630,10,648,12,668,11,686,11,703,10,720,10,737,12,758,12,782,12],
[804,799,13,814,12,830,12,845,11,860,11,875,10,889,11,904,12,918,11,933,12],
[806,947,11,962,11,976,12,990,12,1005,11,1020,11,1035,11,1050,12,1065,11,1080,9,1095,8]
];
// --- physical cells of cluster 7: x, y pairs ---
const spaceCluster = [601,1140,612,1148,628,1147,640,1143,651,1146,664,1140,676,1147,684,1148,692,1141,703,1146,730,1143,740,1146,752,1147,762,1147,758,1135,744,1124,735,1134,699,1132,712,1125,603,1120,603,1112,606,1097,618,1105,608,1085,625,1080,612,1075,604,1070,600,1063,617,1056,632,1065,640,1050,650,1062,655,1050,664,1058,672,1048,680,1053,688,1040,646,1037,636,1030,656,1040,668,1035,600,1040,604,1030,615,1020,628,1015,638,1010,652,1018,660,1010,672,1020,600,1010,607,995,620,995,634,988,645,998,662,1003,670,990,680,1000,688,990,602,980,613,975,628,968,644,975,654,965,667,975,602,960,612,950,630,945,644,950,660,950,672,940,606,935,622,930,634,920,650,925,668,912,680,925,605,905,622,902,603,885,614,880,632,890,650,890,620,865,635,870,608,860,722,1075,740,1085,730,1060,745,1100,735,1110,755,1120,762,1090,705,1095,720,1105,715,1120,690,1110,676,1100,678,1130,770,1000,790,1000,810,1000,815,1040,840,990,690,985,700,945,722,960,745,950,790,960,860,965,925,985,970,1148,1050,1085,1033,960,880,890,860,950,900,875,700,900,720,875,740,880,760,875,770,880,790,880,800,880,820,875,830,880,740,850,762,840,770,830,780,850,800,830,810,840,830,820,860,815,890,815,900,812,930,810,945,806,955,808,965,805,975,810,1008,823,1060,825,1090,805,636,805,610,808,670,820,655,825,660,860,620,820,700,805,750,810,
 620,1140,632,1133,646,1136,658,1132,670,1136,684,1138,614,1128,626,1124,672,1125,686,1122,604,1050,614,1045,626,1048,636,1042,648,1048,660,1045,672,1062,684,1064,694,1050,625,1035,615,1035,604,1015,618,1003,630,1000,640,985,652,990,612,988,626,978,608,965,620,960,636,958,646,963,604,945,618,940,612,915,626,908,640,905,606,895,622,885,640,878,610,870,625,855,640,855];
// --- axes ---
const pcaXTicks = [0,10,20,30], pcaXMinor = [-5,5,15,25], pcaYTicks = [0,10,20], pcaYMinor = [-5,5,15];
const spaceXTicks = [600,700,800,900,1000,1100], spaceXMinor = [650,750,850,950,1050];
const spaceYTicks = [800,900,1000,1100], spaceYMinor = [850,950,1050,1150];
const rankYTicks = [0,50,100,150], rankYMinor = [25,75,125];
const topYTicks = [75,100,125], topYMinor = [62.5,87.5,112.5,137.5];
const exprTicks = [0,0.5,1,1.5];

// --- decode tables ---
const rowsToCells = rows => { const out=[]; rows.forEach(r=>{ for(let i=1;i<r.length;i+=2) out.push([r[i],r[0],r[i+1]]); }); return out; };
const pairs = a => { const out=[]; for(let i=0;i<a.length;i+=2) out.push([a[i],a[i+1]]); return out; };
const pcaCells = rowsToCells(pcaRows).map(c=>[c[0]/10,c[1],c[2]/10]);
const pcaMore = rowsToCells(pcaRuns).map(c=>[c[0]/10,c[1],c[2]/10]);
const spaceCells = rowsToCells(spaceRows).map(c=>[c[0],c[1],c[2]/10]);
const spaceMore = rowsToCells(spaceRuns).map(c=>[c[0],c[1],c[2]/10]);

const F='"Liberation Sans",Arial,sans-serif', GRAY='#AFAFAF', BLUE='#9FCFE2', PANEL='#E5E5E5';
const grids=[
 {left:138,top:97,width:680,height:438},
 {left:1679,top:97,width:639,height:438},
 {left:158.3,top:763.3,width:1318.7,height:364.3},
 {left:1659,top:763,width:1318,height:334},
 {left:138,top:1429.4,width:800.4,height:439.4},
 {left:1679,top:1429.4,width:759.4,height:439.4}
].map(g=>({...g,show:true,backgroundColor:PANEL,borderWidth:0,containLabel:false}));

function xAx(i,min,max,ticks,name,gap,extra){return Object.assign({gridIndex:i,type:'value',min,max,splitLine:{show:false},axisLine:{show:false},
 axisTick:{show:true,length:11.5,lineStyle:{width:4,color:'#333333'},customValues:ticks},
 axisLabel:{show:true,color:'#4D4D4D',fontFamily:F,fontSize:36.7,margin:17,customValues:ticks,hideOverlap:false,formatter:v=>String(v)},
 name,nameLocation:'middle',nameGap:gap,nameTextStyle:{fontFamily:F,fontSize:45.8,color:'#000'}},extra||{});}
function yAx(i,min,max,ticks,name,gap){return {gridIndex:i,type:'value',min,max,splitLine:{show:false},axisLine:{show:false},
 axisTick:{show:true,length:11.5,lineStyle:{width:4,color:'#333333'},customValues:ticks},
 axisLabel:{show:true,color:'#4D4D4D',fontFamily:F,fontSize:36.7,margin:21,padding:[4,0,0,0],customValues:ticks,hideOverlap:false,formatter:v=>String(v)},
 name,nameLocation:'middle',nameRotate:90,nameGap:gap,nameTextStyle:{fontFamily:F,fontSize:45.8,color:'#000'}};}
function indexLabels(n,names,size,margin,lh){const t=[...Array(n).keys()];return {
 axisTick:{show:true,length:11.5,lineStyle:{width:4,color:'#333333'},customValues:t},
 axisLabel:{show:true,color:'#4D4D4D',fontFamily:F,fontSize:size,margin,lineHeight:lh,rotate:90,align:'right',verticalAlign:'top',interval:0,hideOverlap:false,
   customValues:t,formatter:v=>names[v]||''}};}

const xAxes=[
 xAx(0,-9.39,31.6,pcaXTicks,'PC1',63),
 xAx(1,575.4,1124.8,spaceXTicks,'x',63),
 xAx(2,-0.6,156.6,[], 'Gene Name (overlapped gene names has been hidden)',137,indexLabels(157,rankedLabels,20.8,22,18)),
 xAx(3,-0.6,19.6,[], 'Top 20 genes',168,indexLabels(20,topGenes,33,23,26)),
 xAx(4,-9.47,31.62,pcaXTicks,'PC1',62),
 xAx(5,575.2,1124.9,spaceXTicks,'x',62)
];
const yAxes=[
 yAx(0,-9.2,22.53,pcaYTicks,'PC2',73),
 yAx(1,782.7,1166.6,spaceYTicks,'y',104),
 yAx(2,-1.4,152.7,rankYTicks,'-log10(p value)',91),
 yAx(3,56.6,149.6,topYTicks,'-log10(p value)',89),
 yAx(4,-9.27,22.6,pcaYTicks,'PC2',73),
 yAx(5,782,1167,spaceYTicks,'y',104)
];
// white panel lines go through the library's scales as mark lines
function gridLines(i,xMaj,xMin,yMaj,yMin){
 const mk=(vals,key,w)=>vals.map(v=>({[key]:v,lineStyle:{color:'#fff',width:w,type:'solid'}}));
 return {type:'scatter',xAxisIndex:i,yAxisIndex:i,data:[],silent:true,z:1,
  markLine:{silent:true,z:1,animation:false,symbol:'none',label:{show:false},
   data:[...mk(yMin,'yAxis',2),...mk(xMin,'xAxis',2),...mk(yMaj,'yAxis',4),...mk(xMaj,'xAxis',4)]}};
}
const pts=(i,data,size,color,name,z)=>({type:'scatter',name,xAxisIndex:i,yAxisIndex:i,data,symbolSize:size,z:z||3,silent:true,
  itemStyle:color?{color,opacity:1}:{opacity:1},animation:false});
const idx=n=>[...Array(n).keys()];
const series=[
 gridLines(0,pcaXTicks,pcaXMinor,pcaYTicks,pcaYMinor),
 gridLines(1,spaceXTicks,spaceXMinor,spaceYTicks,spaceYMinor),
 gridLines(2,idx(157),[],rankYTicks,rankYMinor),
 gridLines(3,idx(20),[],topYTicks,topYMinor),
 gridLines(4,pcaXTicks,pcaXMinor,pcaYTicks,pcaYMinor),
 gridLines(5,spaceXTicks,spaceXMinor,spaceYTicks,spaceYMinor),
 pts(0,pcaCells,15,GRAY,'FALSE'),
 pts(0,pcaMore,15,GRAY,'FALSE'),
 pts(0,pcaOutliers,10,GRAY,'FALSE'),
 pts(0,pairs(pcaCluster),11,BLUE,'TRUE',4),
 pts(1,spaceCells,20,GRAY,'FALSE'),
 pts(1,spaceMore,20,GRAY,'FALSE'),
 pts(1,pairs(spaceCluster),13,BLUE,'TRUE',4),
 pts(2,rankedValues.map((v,i)=>[i,v]),10,'#000','rank'),
 pts(3,topValues.map((v,i)=>[i,v]),17,'#000','top'),
 pts(4,pcaCells,15,null,'expr'),
 pts(4,pcaMore,14,null,'expr'),
 pts(4,pcaOutliers,11,null,'expr'),
 pts(5,spaceCells,17,null,'expr'),
 pts(5,spaceMore,15,null,'expr')
];
const title=(text,left,top,size)=>({text,left,top,textStyle:{fontFamily:F,fontSize:size||55,fontWeight:'normal',color:'#000'}});
const titles=[title('Cluster 7 in PCA',133,15),title('Cluster 7 in Physical Space',1674,15),
 title('Significance Genes In Cluster 7',153,682),title('Top 20 Genes of Cluster 7 in Pikachu',1656,682),
 title('CXCL12 in PCA',133,1348),title('CXCL12 in Physical Space',1674,1348),
 title('clusters == selected_cluster',881,210,45.8),title('clusters == selected_cluster',2381,210,45.8),
 title('log10(Expression + 1)',1002,1434,45.8),title('log10(Expression + 1)',2502,1434,45.8)];

const gs=[];
[886,2386].forEach(x=>{
 gs.push({type:'rect',x,y:277,shape:{width:72,height:144},style:{fill:PANEL}});
 gs.push({type:'circle',x:x+36,y:313,shape:{r:5},style:{fill:GRAY}});
 gs.push({type:'circle',x:x+36,y:385,shape:{r:5},style:{fill:BLUE}});
 gs.push({type:'text',x:x+96,y:315,style:{text:'FALSE',fontFamily:F,fontSize:36.7,fill:'#000',verticalAlign:'middle'}});
 gs.push({type:'text',x:x+96,y:387,style:{text:'TRUE',fontFamily:F,fontSize:36.7,fill:'#000',verticalAlign:'middle'}});
});
const barTop=1502,barBot=1860.6,barMax=1.997;
const stops=[[0,'#9FCFE2'],[0.25,'#7F93C5'],[0.5,'#5B4DA6'],[0.75,'#382A93'],[1,'#0A0078']];
[1007,2507].forEach(x=>{
 gs.push({type:'rect',x,y:barTop,shape:{width:72,height:barBot-barTop},style:{fill:new echarts.graphic.LinearGradient(0,1,0,0,stops.map(s=>({offset:s[0],color:s[1]})))}});
 exprTicks.forEach(t=>{const y=barBot-(barBot-barTop)*t/barMax;
  gs.push({type:'rect',x,y:y-1,shape:{width:14,height:2},style:{fill:'#fff'}});
  gs.push({type:'rect',x:x+58,y:y-1,shape:{width:14,height:2},style:{fill:'#fff'}});
  gs.push({type:'text',x:x+96,y:y+3,style:{text:t.toFixed(1),fontFamily:F,fontSize:36.7,fill:'#000',verticalAlign:'middle'}});
 });
});

const chart=echarts.init(document.getElementById('c'),null,{renderer:'canvas',width:3000,height:2000});
chart.setOption({animation:false,backgroundColor:'#fff',title:titles,grid:grids,xAxis:xAxes,yAxis:yAxes,series,graphic:{elements:gs},
 visualMap:{show:false,type:'continuous',seriesIndex:[15,16,17,18,19],dimension:2,min:0,max:barMax,inRange:{color:stops.map(s=>s[1])}}});
</script></body></html>
